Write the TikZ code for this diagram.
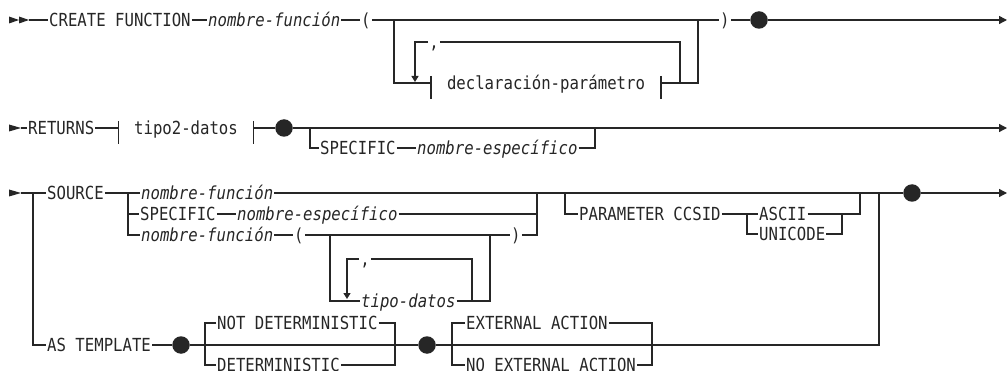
\documentclass[tikz,border=0pt]{standalone}
\usepackage{fontspec}
\usepackage{tikz}
\usetikzlibrary{arrows.meta}
\newfontfamily\rrfont[FakeStretch=0.87]{DejaVu Sans Mono}
\tikzset{
  rr/.style={line width=1.35pt, black!85},
  kw/.style={font=\rrfont\fontsize{18}{18}\selectfont, text=black!85, inner xsep=1pt, inner ysep=0pt,
    text height=13pt, text depth=0pt, anchor=west},
  var/.style={kw, font=\rrfont\itshape\fontsize{18}{18}\selectfont},
  frag/.style={kw, anchor=center, inner xsep=15.75pt},
  dot/.style={circle, fill=black!85, inner sep=0pt, minimum size=17.5pt},
  endarr/.style={-{Triangle[length=8pt,width=8pt]}},
  rep/.style={-{Triangle[length=6pt,width=7pt]}},
}
\newcommand{\fragbars}[1]{%
  \draw[rr] ([yshift=7pt]#1.west) -- ([yshift=-16pt]#1.west)
            ([yshift=7pt]#1.east) -- ([yshift=-16pt]#1.east);}
\begin{document}
\begin{tikzpicture}[x=1pt, y=-1pt]
\useasboundingbox (0,0) rectangle (1008,371);

% Row 1: CREATE FUNCTION
\fill[black!85] (9,16.5) -- (19,20) -- (9,23.5) -- cycle;
\fill[black!85] (19,16.5) -- (29,20) -- (19,23.5) -- cycle;
\coordinate (r1) at (29,20);
\node[kw] (cf) at (48,20) {CREATE FUNCTION};
\node[var] (fn1) at (207,20) {nombre-función};
\node[kw] (lp1) at (360,20) {(};
\node[kw] (rp1) at (719,20) {)};
\node[dot] (d1) at (759,20) {};
\coordinate (e1) at (1007,20);
\node[frag] (dp) at (546,83) {declaración-parámetro};
\fragbars{dp}
\node[kw, anchor=center] (c1) at (434,42) {,};
\coordinate (l1a) at (394,20);
\coordinate (l1b) at (698,20);
\coordinate (l1c) at (415,82);
\coordinate (l1d) at (680,83);

\draw[rr] (r1) -- (cf.west);
\draw[rr] (cf.east) -- (fn1.west);
\draw[rr] (fn1.east) -- (lp1.west);
\draw[rr] (lp1.east) -- (rp1.west);
\draw[rr] (rp1.east) -- (d1);
\draw[rr, endarr] (d1) -- (e1);
\draw[rr] (l1a) |- (dp.west);
\draw[rr] (dp.east) -| (l1b);
\draw[rr] (c1.east) -| (l1d);
\draw[rr, rep] (c1.west) -| (l1c);

% Row 2: RETURNS
\fill[black!85] (9,124.5) -- (21,128) -- (9,131.5) -- cycle;
\coordinate (r2) at (21,128);
\node[kw] (ret) at (27,128) {RETURNS};
\node[frag] (td) at (186,128) {tipo2-datos};
\fragbars{td}
\node[dot] (d2) at (284,128) {};
\coordinate (e2) at (1007,128);
\node[kw] (sp2) at (319,148) {SPECIFIC};
\node[var] (nes2) at (416,148) {nombre-específico};
\coordinate (b2l) at (310,128);
\coordinate (b2r) at (595,128);

\draw[rr] (r2) -- (ret.west);
\draw[rr] (ret.east) -- (td.west);
\draw[rr] (td.east) -- (d2);
\draw[rr, endarr] (d2) -- (e2);
\draw[rr] (b2l) |- (sp2.west);
\draw[rr] (sp2.east) -- (nes2.west);
\draw[rr] (nes2.east) -| (b2r);

% Row 3: SOURCE / AS TEMPLATE
\fill[black!85] (9,189.5) -- (21,193) -- (9,196.5) -- cycle;
\coordinate (r3) at (21,193);
\coordinate (j3) at (33,193);
\node[kw] (src) at (46,193) {SOURCE};
\node[var] (fn3a) at (140,193) {nombre-función};
\node[kw] (sp3) at (139,214) {SPECIFIC};
\node[var] (nes3) at (236,214) {nombre-específico};
\node[var] (fn3b) at (140,235) {nombre-función};
\node[kw] (lp3) at (293,235) {(};
\node[kw] (rp3) at (510,235) {)};
\node[kw, anchor=center] (c3) at (365,259) {,};
\node[var] (td3) at (360,301) {tipo-datos};
\node[kw] (pc) at (578,214) {PARAMETER CCSID};
\node[kw] (asc) at (758,214) {ASCII};
\node[kw] (uni) at (758,234) {UNICODE};
\node[dot] (d3) at (912,193) {};
\coordinate (e3) at (1007,193);
\coordinate (a3) at (128,193);
\coordinate (a3r) at (537,193);
\coordinate (l3a) at (330,235);
\coordinate (l3b) at (490,235);
\coordinate (l3c) at (347,299);
\coordinate (l3d) at (472,301);
\coordinate (p3) at (565,193);
\coordinate (p3r) at (860,193);
\coordinate (q3) at (747,214);
\coordinate (q3r) at (842,214);
\coordinate (v3) at (879,193);

\draw[rr] (r3) -- (src.west);
\draw[rr] (src.east) -- (fn3a.west);
\draw[rr] (fn3a.east) -- (d3);
\draw[rr, endarr] (d3) -- (e3);
\draw[rr] (a3) |- (sp3.west);
\draw[rr] (a3) |- (fn3b.west);
\draw[rr] (sp3.east) -- (nes3.west);
\draw[rr] (nes3.east) -| (a3r);
\draw[rr] (fn3b.east) -- (lp3.west);
\draw[rr] (lp3.east) -- (rp3.west);
\draw[rr] (rp3.east) -| (a3r);
\draw[rr] (l3a) |- (td3.west);
\draw[rr] (td3.east) -| (l3b);
\draw[rr] (c3.east) -| (l3d);
\draw[rr, rep] (c3.west) -| (l3c);
\draw[rr] (p3) |- (pc.west);
\draw[rr] (pc.east) -- (asc.west);
\draw[rr] (asc.east) -| (p3r);
\draw[rr] (q3) |- (uni.west);
\draw[rr] (uni.east) -| (q3r);

\node[kw] (ast) at (46,345) {AS TEMPLATE};
\node[dot] (d4) at (181,345) {};
\node[kw] (nd) at (216,323) {NOT DETERMINISTIC};
\node[kw] (det) at (216,365) {DETERMINISTIC};
\node[dot] (d5) at (427,345) {};
\node[kw] (ea) at (465,323) {EXTERNAL ACTION};
\node[kw] (nea) at (465,365) {NO EXTERNAL ACTION};
\coordinate (n4a) at (205,345);
\coordinate (n4b) at (395,345);
\coordinate (x4a) at (452,345);
\coordinate (x4b) at (652,345);

\draw[rr] (j3) |- (ast.west);
\draw[rr] (ast.east) -- (d4);
\draw[rr] (d4) -- (d5);
\draw[rr] (d5) -| (v3);
\draw[rr] (nd.west) -| (n4a) |- (det.west);
\draw[rr] (nd.east) -| (n4b) |- (det.east);
\draw[rr] (ea.west) -| (x4a) |- (nea.west);
\draw[rr] (ea.east) -| (x4b) |- (nea.east);
\end{tikzpicture}
\end{document}
